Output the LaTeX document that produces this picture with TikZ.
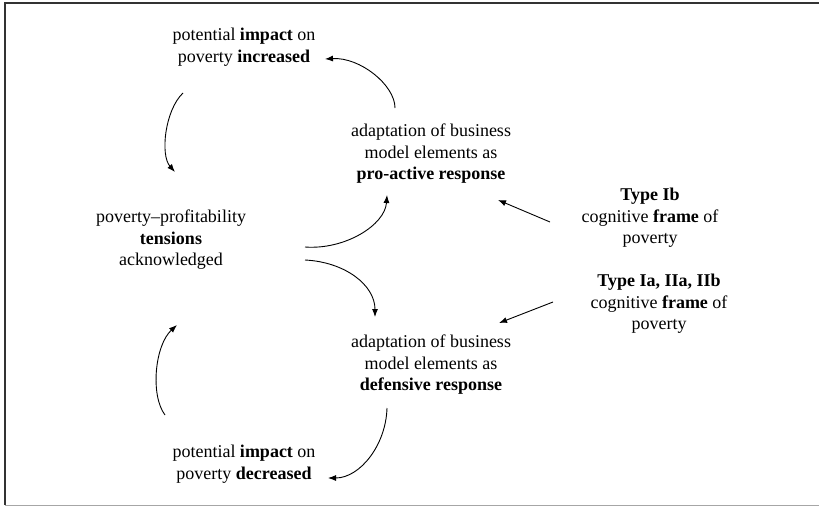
\documentclass[tikz,border=0pt]{standalone}
\usepackage{fontspec}
\setmainfont{Liberation Serif}
\usetikzlibrary{arrows.meta}

\begin{document}
\begin{tikzpicture}[x=1pt, y=1pt, >={Latex[length=8pt,width=6pt]}, line width=0.9pt,
  box/.style={align=center, inner sep=0pt, font=\fontsize{18}{21.5}\selectfont}]
  \useasboundingbox (0,0) rectangle (819,-506);
  % frame
  \draw [line width=1.3pt, black!80] (819,-3) -- (5,-3) -- (5,-505);
  \draw [line width=1pt, black!35] (5,-505) -- (819,-505);
  % cycle
  \node [box] (inc) at (244,-47) {potential \textbf{impact} on\\poverty \textbf{increased}};
  \node [box] (tens) at (171,-240) {poverty--profitability\\\textbf{tensions}\\acknowledged};
  \node [box] (pro) at (431,-154) {adaptation of business\\model elements as\\\textbf{pro-active response}};
  \node [box] (def) at (431,-365) {adaptation of business\\model elements as\\\textbf{defensive response}};
  \node [box] (dec) at (244,-464) {potential \textbf{impact} on\\poverty \textbf{decreased}};
  % frames of poverty
  \node [box] (ib) at (650,-218) {\textbf{Type Ib}\\cognitive \textbf{frame} of\\poverty};
  \node [box] (ia) at (659,-304) {\textbf{Type Ia, IIa, IIb}\\cognitive \textbf{frame} of\\poverty};
  \draw [->] ([shift={(-36,46)}]pro.center) .. controls +(0,23) and +(35,2) .. ([shift={(81,-12)}]inc.center);
  \draw [->] ([shift={(-61,-46)}]inc.center) .. controls +(-18,-17) and +(-15,17) .. ([shift={(4,68)}]tens.center);
  \draw [->] ([shift={(134,-7)}]tens.center) .. controls +(40,-3) and +(-2,-30) .. ([shift={(-44,-41)}]pro.center);
  \draw [->] ([shift={(134,-20)}]tens.center) .. controls +(40,-2) and +(0,32) .. ([shift={(-56,48)}]def.center);
  \draw [->] ([shift={(-44,-43)}]def.center) .. controls +(-1,-37) and +(32,0) .. ([shift={(84,-14)}]dec.center);
  \draw [->] ([shift={(-79,49)}]dec.center) .. controls +(-15,20) and +(-22,-20) .. ([shift={(6,-85)}]tens.center);
  \draw [->] ([shift={(-100,-4)}]ib.center) -- ([shift={(67,-46)}]pro.center);
  \draw [->] ([shift={(-106,2)}]ia.center) -- ([shift={(68,42)}]def.center);
\end{tikzpicture}
\end{document}
